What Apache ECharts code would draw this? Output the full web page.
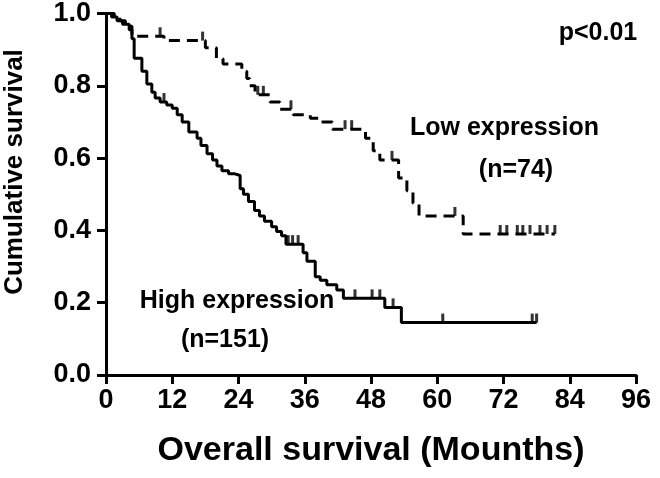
<!DOCTYPE html>
<html>
<head>
<meta charset="utf-8">
<script src="https://cdn.jsdelivr.net/npm/echarts@6/dist/echarts.min.js"></script>
<style>
html,body{margin:0;padding:0;background:#fff;}
#chart{width:660px;height:478px;}
</style>
</head>
<body>
<div id="chart"></div>
<script>
// ---- data (months, cumulative survival) ----
const highTimes = [0, 1.0, 2.0, 3.0, 4.2, 4.7, 5.1, 6.5, 7.4, 8.3, 8.9, 9.8, 11.0, 12.0, 12.9, 13.8, 15.0, 16.5, 17.2, 18.3, 19.3, 20.1, 21.0, 22.2, 23.2, 24.3, 24.9, 25.8, 26.9, 27.8, 28.7, 30.0, 30.9, 31.8, 32.6, 35.7, 36.4, 37.9, 38.8, 40.0, 41.8, 43.0, 50.5, 53.5, 78.0];
const highSurv  = [1.0, 0.99, 0.98, 0.97, 0.955, 0.93, 0.876, 0.84, 0.805, 0.782, 0.766, 0.755, 0.747, 0.738, 0.72, 0.70, 0.672, 0.655, 0.635, 0.612, 0.595, 0.578, 0.565, 0.557, 0.552, 0.515, 0.50, 0.48, 0.455, 0.44, 0.425, 0.41, 0.397, 0.385, 0.362, 0.338, 0.315, 0.272, 0.262, 0.25, 0.235, 0.212, 0.187, 0.145, 0.145];
const highCensorTimes = [10.5, 33.0, 33.8, 34.8, 45.1, 48.2, 49.6, 52.0, 61.0, 77.2, 78.0];
const highCensorSurv  = [0.755, 0.362, 0.362, 0.362, 0.212, 0.212, 0.212, 0.187, 0.145, 0.145, 0.145];

const lowTimes = [0, 1.5, 2.5, 3.5, 4.7, 10.5, 18.0, 20.0, 21.2, 24.6, 25.5, 26.0, 27.0, 29.7, 31.5, 33.9, 37.0, 39.0, 41.0, 47.0, 48.4, 49.6, 53.0, 54.5, 55.6, 56.7, 64.7, 81.3];
const lowSurv  = [1.0, 0.99, 0.98, 0.965, 0.937, 0.925, 0.905, 0.875, 0.86, 0.84, 0.82, 0.80, 0.775, 0.755, 0.735, 0.72, 0.71, 0.70, 0.68, 0.655, 0.62, 0.595, 0.545, 0.51, 0.475, 0.44, 0.39, 0.39];
const lowCensorTimes = [9.8, 17.5, 27.5, 28.5, 33.5, 43.3, 44.5, 51.8, 63.2, 71.4, 72.6, 74.5, 75.5, 76.8, 78.6, 79.9, 81.3];
const lowCensorSurv  = [0.937, 0.925, 0.775, 0.775, 0.735, 0.68, 0.68, 0.595, 0.44, 0.39, 0.39, 0.39, 0.39, 0.39, 0.39, 0.39, 0.39];

const xMin = 0, xMax = 96, xStep = 12;
const yMin = 0, yMax = 1, yStep = 0.2;

const xTitle = 'Overall survival (Mounths)';
const yTitle = 'Cumulative survival';
const lowLabel = ['Low expression', '(n=74)'];
const highLabel = ['High expression', '(n=151)'];
const pText = 'p<0.01';

// ---- build ----
const FONT = "'Liberation Sans', Arial, sans-serif";
const zip = (a, b) => a.map((v, i) => [v, b[i]]);

const chart = echarts.init(document.getElementById('chart'), null, {renderer: 'canvas'});
const axisCommon = {
  axisLine: {show: true, onZero: false, lineStyle: {color: '#000', width: 3}},
  axisTick: {show: true, inside: false, length: 9, lineStyle: {color: '#000', width: 3}},
  splitLine: {show: false},
  axisLabel: {color: '#000', fontFamily: FONT, fontWeight: 'bold', fontSize: 27}
};
const censorStyle = {
  type: 'scatter', symbol: 'rect', symbolSize: [3, 9], symbolOffset: [0, -4.5],
  itemStyle: {color: '#000'}, silent: true, z: 3
};
const txt = (text, x, y, size, align, rot) => ({
  type: 'text', x: x, y: y, rotation: rot || 0,
  style: {text: text, font: 'bold ' + size + 'px ' + FONT, fill: '#000', textAlign: align || 'center', textVerticalAlign: 'middle'}
});

chart.setOption({
  animation: false,
  backgroundColor: '#fff',
  grid: {left: 106, right: 24, top: 11, bottom: 103, containLabel: false},
  xAxis: Object.assign({}, axisCommon, {
    type: 'value', min: xMin, max: xMax, interval: xStep,
    axisLabel: Object.assign({}, axisCommon.axisLabel, {margin: 12}),
    name: xTitle, nameLocation: 'middle', nameGap: 59,
    nameTextStyle: {color: '#000', fontFamily: FONT, fontWeight: 'bold', fontSize: 34}
  }),
  yAxis: Object.assign({}, axisCommon, {
    type: 'value', min: yMin, max: yMax, interval: yStep,
    axisLabel: Object.assign({}, axisCommon.axisLabel, {margin: 15, formatter: v => v.toFixed(1)})
  }),
  series: [
    {type: 'line', name: 'High expression', step: 'end', showSymbol: false, silent: true,
     data: zip(highTimes, highSurv), lineStyle: {color: '#000', width: 3}},
    {type: 'line', name: 'Low expression', step: 'end', showSymbol: false, silent: true,
     data: zip(lowTimes, lowSurv), lineStyle: {color: '#000', width: 3, type: [11, 7]}},
    Object.assign({}, censorStyle, {data: zip(highCensorTimes, highCensorSurv)}),
    Object.assign({}, censorStyle, {data: zip(lowCensorTimes, lowCensorSurv)})
  ],
  graphic: [
    txt(yTitle, 15, 172, 26, 'center', Math.PI / 2),
    txt(pText, 598, 33, 25),
    txt(lowLabel[0], 410, 128, 25, 'left'),
    txt(lowLabel[1], 516, 170, 25),
    txt(highLabel[0], 237, 301, 25),
    txt(highLabel[1], 225, 340, 25)
  ]
});
</script>
</body>
</html>
